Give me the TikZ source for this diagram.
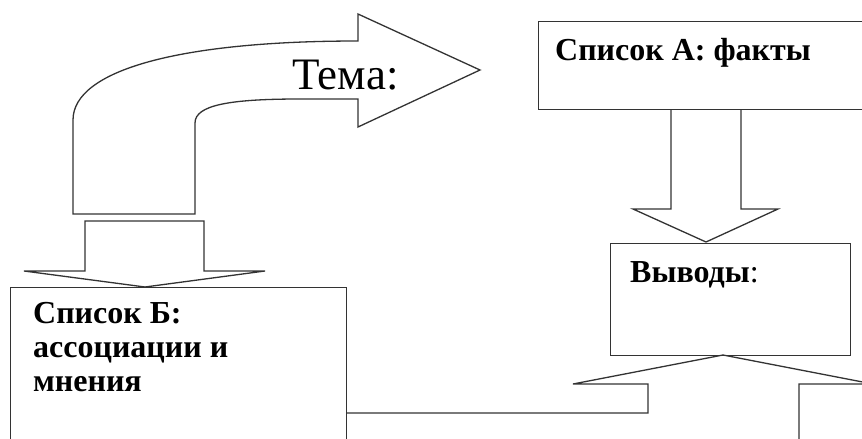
\documentclass[tikz,border=0pt]{standalone}
\usepackage{fontspec}
\setmainfont{Liberation Serif}
\begin{document}
\begin{tikzpicture}[x=1pt,y=-1pt,
  outl/.style={draw=black!80,line width=1.3pt,line join=miter},
  boxn/.style={outl,rectangle,anchor=north west,inner sep=0pt},
  lbl/.style={anchor=base west,inner sep=0pt,font=\fontsize{32}{34}\selectfont\bfseries}]
\useasboundingbox (0,0) rectangle (862,439);
\clip (0,0) rectangle (862,439);
\fill[white] (0,0) rectangle (862,439);
% boxes
\node[boxn,minimum width=500pt,minimum height=88pt] (A) at (538,21) {};
\node[boxn,minimum width=240pt,minimum height=112pt] (V) at (610,243) {};
\node[boxn,minimum width=336pt,minimum height=260pt] (B) at (10,287) {};
% texts
\node[lbl] (tA) at (555,60) {Список А: факты};
\node[lbl] (tV) at (630,282) {Выводы\mdseries:};
\node[lbl,align=left,anchor=north west] (tB) at (33,302) {Список Б:\\ассоциации и\\мнения};
% curved arrow
\draw[outl] (73,214) -- (73,120) .. controls (73,70) and (180,41) .. (358,41)
  -- (358,14) -- (480,70) -- (358,127) -- (358,99) -- (300,99)
  .. controls (230,99) and (195,105) .. (195,123) -- (195,214) -- cycle;
\node[anchor=base west,inner sep=0pt,font=\fontsize{45}{50}\selectfont] (tT) at (292,89) {Тема:};
% down arrow into B
\draw[outl] (85,221) -- (204,221) -- (204,271) -- (265,271) -- (145,287)
  -- (24,271) -- (85,271) -- cycle;
% down arrow from A to V
\draw[outl] (671,109) -- (671,209) -- (633,209) -- (706,242) -- (778,209)
  -- (741,209) -- (741,109);
% up arrow from B to V
\draw[outl] (346,413) -- (648,413) -- (648,384) -- (573,384) -- (723,355)
  -- (873,384) -- (799,384) -- (799,450);
\end{tikzpicture}
\end{document}
